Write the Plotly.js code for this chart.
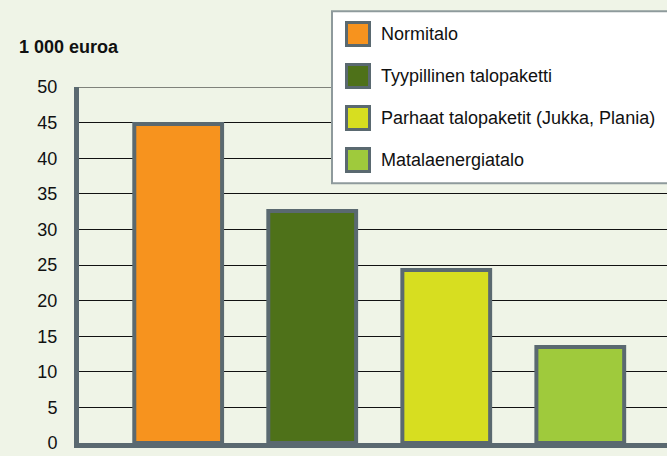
<!DOCTYPE html>
<html>
<head>
<meta charset="utf-8">
<script src="https://cdn.plot.ly/plotly-3.0.1.min.js"></script>
<style>
html,body{margin:0;padding:0;background:#eff4e7;}
#chart{width:667px;height:456px;}
</style>
</head>
<body>
<div id="chart"></div>
<script>
// Data
var categories = ["Normitalo", "Tyypillinen talopaketti", "Parhaat talopaketit (Jukka, Plania)", "Matalaenergiatalo"];
var values = [44.8, 32.6, 24.3, 13.5];
var barColors = ["#f7931e", "#4e7119", "#d7de20", "#9fca3c"];
var yTickValues = [0, 5, 10, 15, 20, 25, 30, 35, 40, 45, 50];
var yUnitLabel = "1 000 euroa";

var W = 667, H = 456;
var M = {l: 79, r: 0, t: 86.7, b: 13.1};
var pw = W - M.l - M.r, ph = H - M.t - M.b;
function px(x){ return (x - M.l) / pw; }
function py(y){ return (H - M.b - y) / ph; }

var borderCol = "#5a6970";
var font = "Liberation Sans, Arial, Helvetica, sans-serif";

var trace = {
  type: "bar",
  x: categories,
  y: values,
  width: 0.655,
  marker: {color: barColors, line: {color: borderCol, width: 4}},
  hoverinfo: "x+y",
  showlegend: false
};

var shapes = [], annotations = [];
// top gridline (at the range edge)
shapes.push({type: "line", xref: "paper", yref: "y", layer: "below",
  x0: 0, x1: 1, y0: yTickValues[yTickValues.length - 1], y1: yTickValues[yTickValues.length - 1],
  line: {color: "#111111", width: 1}});
// Legend built from the series names/colours
shapes.push({type: "rect", xref: "paper", yref: "paper", layer: "above",
  x0: px(332), x1: px(672), y0: py(11), y1: py(183),
  fillcolor: "#ffffff", line: {color: "#8e9a9c", width: 2}});
var rowY0 = 33.7, rowStep = 42;
categories.forEach(function(name, i){
  var cy = rowY0 + i * rowStep;
  shapes.push({type: "rect", xref: "paper", yref: "paper", layer: "above",
    x0: px(346.5), x1: px(369.5), y0: py(cy - 11.5), y1: py(cy + 11.5),
    fillcolor: barColors[i], line: {color: borderCol, width: 3}});
  annotations.push({xref: "paper", yref: "paper", x: px(379), y: py(cy),
    xanchor: "left", yanchor: "middle", showarrow: false, text: name,
    font: {family: font, size: 18, color: "#111111"}});
});
annotations.push({xref: "paper", yref: "paper", x: px(17), y: py(47),
  xanchor: "left", yanchor: "middle", showarrow: false, text: yUnitLabel,
  font: {family: font, size: 18, color: "#111111", weight: "bold"}});

var layout = {
  width: W, height: H,
  margin: M,
  paper_bgcolor: "#eff4e7",
  plot_bgcolor: "#eff4e7",
  showlegend: false,
  xaxis: {
    type: "category",
    range: [-0.74, 3.647],
    showticklabels: false,
    showgrid: false,
    zeroline: false,
    showline: true, linecolor: borderCol, linewidth: 5,
    ticks: "", fixedrange: true
  },
  yaxis: {
    range: [0, 50],
    tickvals: yTickValues,
    showgrid: true, gridcolor: "#111111", gridwidth: 1,
    zeroline: false,
    showline: true, linecolor: borderCol, linewidth: 5,
    ticks: "",
    ticklabelstandoff: 13,
    tickfont: {family: font, size: 18, color: "#111111"},
    fixedrange: true
  },
  shapes: shapes,
  annotations: annotations
};

Plotly.newPlot("chart", [trace], layout, {displayModeBar: false, staticPlot: true});
</script>
</body>
</html>
